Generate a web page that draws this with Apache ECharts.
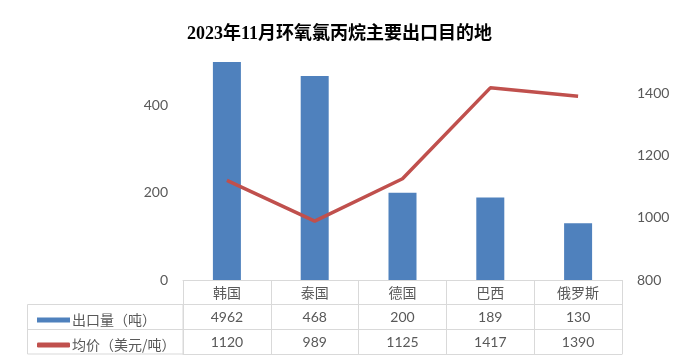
<!DOCTYPE html>
<html>
<head>
<meta charset="utf-8">
<script src="https://cdn.jsdelivr.net/npm/echarts@6/dist/echarts.min.js"></script>
<style>html,body{margin:0;padding:0;background:#fff}#c{width:689px;height:362px}</style>
</head>
<body>
<div id="c"></div>
<script>
const categories = ['韩国', '泰国', '德国', '巴西', '俄罗斯'];
const exportQty = [4962, 468, 200, 189, 130];
const avgPrice = [1120, 989, 1125, 1417, 1390];
const seriesNames = ['出口量（吨）', '均价（美元/吨）'];
const titleText = '2023年11月环氧氯丙烷主要出口目的地';

const chart = echarts.init(document.getElementById('c'), null, {renderer: 'canvas'});
const gridL = 183, gridR = 67, gridT = 62, gridB = 82;
const lineColor = '#d9d9d9';
const txt = '#595959';
const numFont = 'Lato, "Open Sans", "Noto Sans", sans-serif';
const cjkFont = '"Noto Sans CJK SC", sans-serif';

function rowAxis(offset, formatter, showTick, font) {
  return {
    type: 'category', data: categories, gridIndex: 0, position: 'bottom', offset: offset,
    axisLine: {show: true, lineStyle: {color: lineColor, width: 1}},
    axisTick: {show: showTick, length: 74, interval: 0, lineStyle: {color: lineColor}},
    axisLabel: {interval: 0, margin: 6, color: txt, fontSize: 14, fontFamily: font, formatter: formatter}
  };
}

chart.setOption({
  animation: false,
  title: {text: titleText, left: 182, top: 20, textStyle: {fontSize: 18, fontWeight: 'bold', color: '#000', fontFamily: '"Liberation Serif", "Noto Sans CJK SC", serif'}},
  grid: {left: gridL, right: gridR, top: gridT, bottom: gridB, containLabel: false},
  legend: {
    orient: 'vertical', left: 32, top: 308, itemGap: 11, itemWidth: 33, itemHeight: 5,
    textStyle: {color: txt, fontSize: 14, fontFamily: cjkFont, padding: [0, 0, 0, -3]},
    data: [{name: seriesNames[0], icon: 'rect'}, {name: seriesNames[1], icon: 'roundRect'}]
  },
  graphic: [
    {type: 'rect', shape: {x: 27.5, y: 304.5, width: 155.5, height: 49.5}, style: {fill: 'none', stroke: lineColor, lineWidth: 1}, silent: true},
    {type: 'line', shape: {x1: 27.5, y1: 329.5, x2: 183, y2: 329.5}, style: {stroke: lineColor, lineWidth: 1}, silent: true}
  ],
  xAxis: [
    rowAxis(0, v => v, true, cjkFont),
    rowAxis(24, (v, i) => String(exportQty[i]), false, numFont),
    rowAxis(49, (v, i) => String(avgPrice[i]), false, numFont),
    {type: 'category', data: categories, gridIndex: 0, position: 'bottom', offset: 74,
     axisLine: {show: true, lineStyle: {color: lineColor}}, axisTick: {show: false}, axisLabel: {show: false}}
  ],
  yAxis: [
    {type: 'value', min: 0, max: 500, interval: 200, position: 'left',
     axisLine: {show: false}, axisTick: {show: false}, splitLine: {show: false},
     axisLabel: {showMaxLabel: false, margin: 15, color: txt, fontSize: 14, fontFamily: numFont, formatter: v => String(v)}},
    {type: 'value', min: 800, max: 1500, interval: 200, position: 'right',
     axisLine: {show: false}, axisTick: {show: false}, splitLine: {show: false},
     axisLabel: {showMaxLabel: false, margin: 15, color: txt, fontSize: 14, fontFamily: numFont, formatter: v => String(v)}}
  ],
  series: [
    {name: seriesNames[0], type: 'bar', xAxisIndex: 0, yAxisIndex: 0, data: exportQty, barWidth: 28,
     clip: true, itemStyle: {color: '#4f81bd'}},
    {name: seriesNames[1], type: 'line', xAxisIndex: 0, yAxisIndex: 1, data: avgPrice, symbol: 'none',
     lineStyle: {color: '#c0504d', width: 3.5}, itemStyle: {color: '#c0504d'}}
  ]
});
</script>
</body>
</html>
